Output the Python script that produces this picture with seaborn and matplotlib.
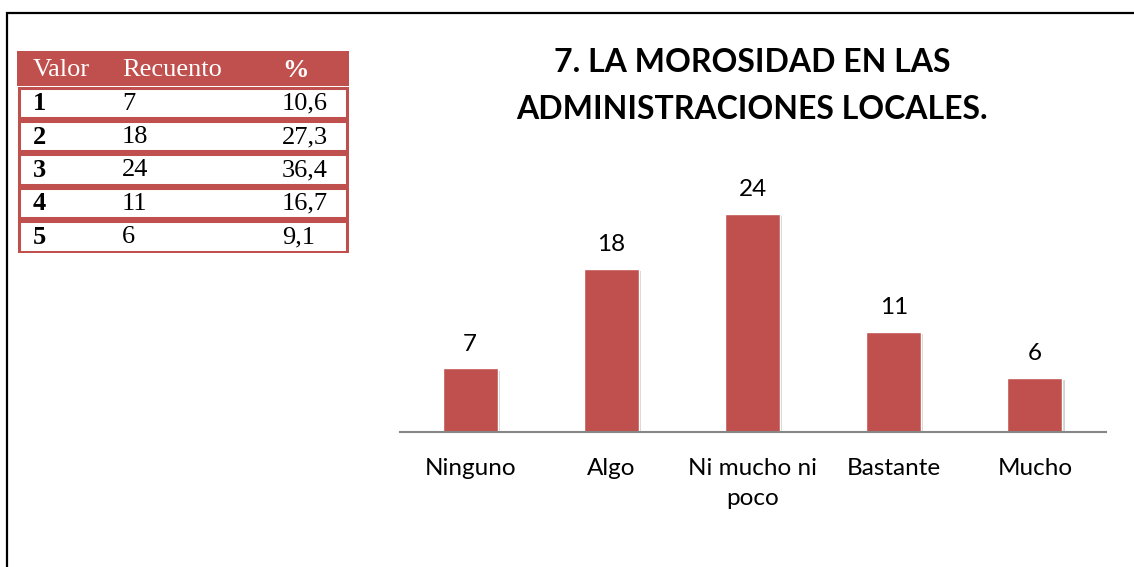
import matplotlib
matplotlib.use("Agg")
import matplotlib.pyplot as plt
import matplotlib.patheffects as pe
from matplotlib.patches import Rectangle
import seaborn as sns
import pandas as pd

# data
categories = ["Ninguno", "Algo", "Ni mucho ni\npoco", "Bastante", "Mucho"]
counts = [7, 18, 24, 11, 6]
table_header = ["Valor", "Recuento", "%"]
table_valor = ["1", "2", "3", "4", "5"]
table_recuento = ["7", "18", "24", "11", "6"]
table_pct = ["10,6", "27,3", "36,4", "16,7", "9,1"]
title = "7. LA MOROSIDAD EN LAS\nADMINISTRACIONES LOCALES."

RED = "#C0504D"
W, H = 1134, 567

sns.set_theme(style="white")
plt.rcParams["font.family"] = ["Lato", "DejaVu Sans"]
plt.rcParams["text.color"] = "black"

fig = plt.figure(figsize=(W / 100, H / 100), dpi=100)

# outer frame (cut by the image border on the right and bottom)
fig.add_artist(Rectangle((7 / W, -0.2), 2.0, (1 - 13 / H) + 0.2,
                         transform=fig.transFigure, fill=False,
                         edgecolor="black", lw=1.6))

# bar chart
ax = fig.add_axes([399.5 / W, 135 / H, 706 / W, 236 / H])
df = pd.DataFrame({"cat": categories, "n": counts})
sns.barplot(data=df, x="cat", y="n", color=RED, saturation=1, width=0.39, ax=ax)
for bar in ax.patches:
    bar.set_path_effects([pe.SimplePatchShadow(offset=(1.5, -1.5), shadow_rgbFace="gray", alpha=0.35),
                          pe.Normal()])
ax.bar_label(ax.containers[0], padding=10, fontsize=17.5, color="black")
ax.set_xlim(-0.5, 4.5)
ax.set_ylim(0, 26)
ax.set_xlabel("")
ax.set_ylabel("")
ax.set_yticks([])
for s in ["top", "left", "right"]:
    ax.spines[s].set_visible(False)
ax.spines["bottom"].set_color("#868686")
ax.spines["bottom"].set_linewidth(1.5)
ax.tick_params(axis="x", length=0, pad=19, labelsize=17.5, colors="black")
for lbl in ax.get_xticklabels():
    lbl.set_linespacing(1.5)

fig.text(752 / W, 1 - 86 / H, title, ha="center", va="center", color="black",
         fontsize=23, fontweight="bold", linespacing=1.75)

# frequency table
tx = fig.add_axes([17 / W, (H - 253) / H, 332 / W, 202 / H])
tx.set_xlim(0, 332)
tx.set_ylim(202, 0)
tx.axis("off")
head_h = 35
row_h = (202 - head_h) / len(table_valor)
col_x = [16, 105, 265]
serif = ["Liberation Serif", "DejaVu Serif"]

tx.add_patch(Rectangle((0, 0), 332, head_h, facecolor=RED, edgecolor=RED, lw=0))
for j, h in enumerate(table_header):
    tx.text(col_x[j], head_h / 2 + 2, h, ha="left", va="center", color="white",
            fontsize=19, family=serif, fontweight="bold" if h == "%" else "normal")

for i in range(len(table_valor)):
    y0 = head_h + i * row_h
    tx.add_patch(Rectangle((1.5, y0 + 1.5), 329, row_h - 3, facecolor="white",
                           edgecolor=RED, lw=2.2))
    yc = y0 + row_h / 2 + 1
    tx.text(col_x[0], yc, table_valor[i], ha="left", va="center", fontsize=19,
            family=serif, fontweight="bold", color="black")
    tx.text(col_x[1], yc, table_recuento[i], ha="left", va="center", fontsize=19,
            family=serif, color="black")
    tx.text(col_x[2], yc, table_pct[i], ha="left", va="center", fontsize=19,
            family=serif, color="black")

fig.savefig("out.png", dpi=100)
